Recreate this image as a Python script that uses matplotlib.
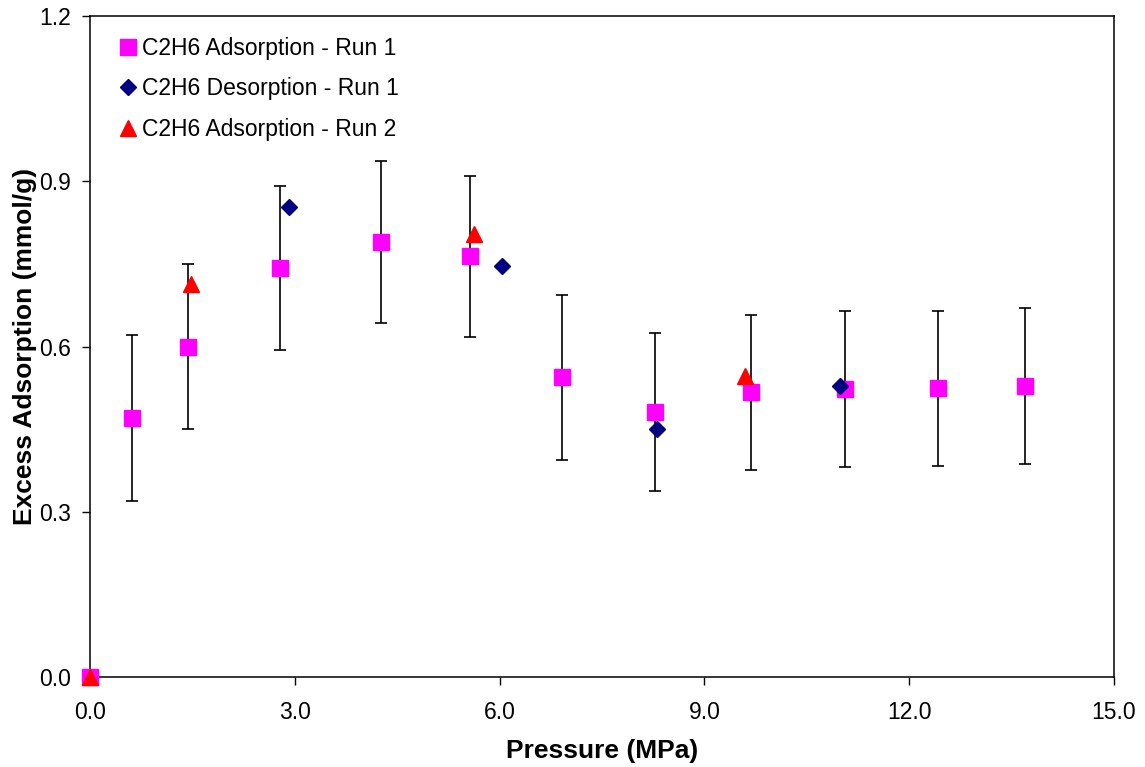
"""
C2H6 excess adsorption vs pressure, runs 1 and 2.
"""
import matplotlib

matplotlib.use("Agg")
import matplotlib.pyplot as plt

plt.rcParams["font.family"] = ["Liberation Sans", "DejaVu Sans"]

# adsorption run 1 (with error bars)
ads1_p = [0.0, 0.62, 1.44, 2.79, 4.27, 5.57, 6.92, 8.27, 9.68, 11.06, 12.42, 13.70]
ads1_q = [0.0, 0.470, 0.600, 0.742, 0.790, 0.764, 0.544, 0.481, 0.517, 0.523, 0.524, 0.528]
ads1_err = [0.0, 0.150, 0.150, 0.149, 0.147, 0.146, 0.150, 0.144, 0.141, 0.141, 0.141, 0.141]

# desorption run 1
des1_p = [2.92, 6.03, 8.30, 10.98]
des1_q = [0.853, 0.746, 0.450, 0.528]

# adsorption run 2
ads2_p = [0.0, 1.48, 5.62, 9.59]
ads2_q = [0.0, 0.713, 0.804, 0.546]

x_ticks = [0, 3, 6, 9, 12, 15]
y_ticks = [0.0, 0.3, 0.6, 0.9, 1.2]


def main() -> None:
    fig = plt.figure(figsize=(11.45, 7.67), dpi=100)
    ax = fig.add_axes([90 / 1145, 1 - 677 / 767, (1114 - 90) / 1145, (677 - 16) / 767])

    ax.errorbar(ads1_p, ads1_q, yerr=ads1_err, fmt="none", ecolor="black",
                elinewidth=1.2, capsize=4, capthick=1.2, zorder=2)
    ax.plot(ads1_p, ads1_q, "s", color="#FF00FF", ms=11, mec="#FF00FF",
            label="C2H6 Adsorption - Run 1", clip_on=False, zorder=3)
    ax.plot(des1_p, des1_q, "D", color="#000080", ms=8.5, mec="#000080",
            label="C2H6 Desorption - Run 1", clip_on=False, zorder=4)
    ax.plot(ads2_p, ads2_q, "^", color="#FF0000", ms=11, mec="#FF0000",
            label="C2H6 Adsorption - Run 2", clip_on=False, zorder=5)

    ax.set_xlim(0, 15)
    ax.set_ylim(0, 1.2)
    ax.set_xticks(x_ticks)
    ax.set_xticklabels([f"{v:.1f}" for v in x_ticks])
    ax.set_yticks(y_ticks)
    ax.set_yticklabels([f"{v:.1f}" for v in y_ticks])
    ax.tick_params(direction="out", length=6, width=1, labelsize=16.5)
    ax.tick_params(axis="x", pad=11)
    ax.tick_params(axis="y", pad=8)
    for s in ax.spines.values():
        s.set_linewidth(1.1)

    ax.set_xlabel("Pressure (MPa)", fontsize=19, fontweight="bold", labelpad=11)
    ax.set_ylabel("Excess Adsorption (mmol/g)", fontsize=19, fontweight="bold", labelpad=1)

    ax.legend(loc="upper left", bbox_to_anchor=(0.009, 0.999), frameon=False,
              fontsize=16.5, labelspacing=0.75, handlelength=0.7, handletextpad=0.25,
              numpoints=1)

    fig.savefig("out.png", dpi=100)
    plt.close(fig)


if __name__ == "__main__":
    main()
